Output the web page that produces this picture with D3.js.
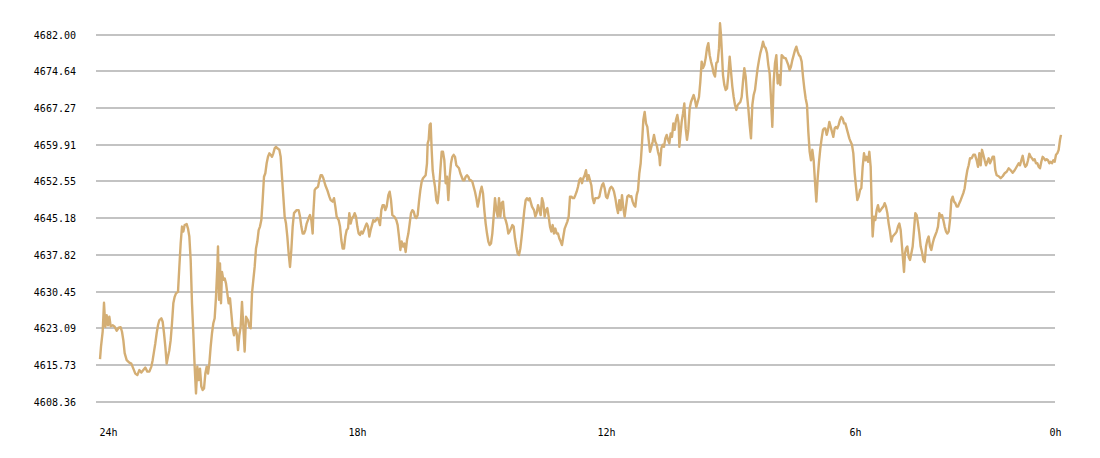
<!DOCTYPE html>
<html>
<head>
<meta charset="utf-8">
<script src="https://cdn.jsdelivr.net/npm/d3@7/dist/d3.min.js"></script>
<style>
  html, body { margin: 0; padding: 0; background: #fff; }
  svg { display: block; }
  text { font-family: "DejaVu Sans Mono", "Liberation Mono", monospace; font-size: 10px; fill: #000; }
</style>
</head>
<body>
<svg id="chart" width="1100" height="458"></svg>
<script>
// ---- data ----
const yTicks = [4682.00, 4674.64, 4667.27, 4659.91, 4652.55, 4645.18, 4637.82, 4630.45, 4623.09, 4615.73, 4608.36];
const xTickHours = [24, 18, 12, 6, 0];
const xTickLabels = ["24h", "18h", "12h", "6h", "0h"];
// [minutes since start of the 24h window, price]
const points = [
[0,4616.9],[1.5,4619.4],[4,4622.4],[6,4628.2],[8,4623.4],[10,4625.7],[12,4623.7],[14,4625.4],[16,4623.5],[19,4623.7],
[22,4623.4],[25,4622.6],[28,4623.2],[31,4623.3],[33,4622.4],[35,4620.7],[37,4618.1],[40,4616.7],[44,4616.2],[47,4616.0],
[50,4615.0],[53,4614.0],[56,4613.7],[59,4614.7],[62,4614.2],[65,4614.7],[68,4615.2],[71,4614.4],[74,4614.4],[77,4615.4],
[79,4616.7],[81,4618.4],[83,4620.1],[85,4622.1],[87,4623.7],[89,4624.7],[92,4625.1],[94,4624.4],[96,4622.1],[98,4619.4],
[100,4616.0],[102,4617.4],[104,4618.7],[106,4620.7],[108,4624.1],[110,4628.1],[112,4629.4],[114,4630.1],[117,4630.4],[119,4635.4],
[121,4640.1],[123,4643.5],[125,4642.5],[127,4643.8],[130,4644.0],[132,4643.1],[134,4641.5],[136,4636.8],[138,4628.1],[140,4622.1],
[142,4615.4],[144,4610.0],[146,4615.4],[148,4612.7],[150,4615.0],[152,4611.4],[154,4610.7],[156,4611.0],[158,4614.0],[160,4615.4],
[162,4614.0],[164,4616.0],[166,4619.4],[168,4622.1],[170,4624.1],[172,4625.1],[174,4629.4],[176,4635.4],[177,4639.5],[178.5,4628.8],
[180,4636.1],[181.5,4628.1],[183,4634.4],[185,4632.8],[187,4633.1],[189,4632.1],[191,4630.1],[193,4628.1],[195,4629.1],[197,4626.1],
[199,4623.1],[201,4621.7],[203,4623.1],[205,4622.1],[207,4618.7],[209,4621.7],[211,4623.4],[213,4628.4],[215,4623.4],[217,4618.4],
[219,4625.4],
[222,4624.7],[224,4623.4],[226,4623.1],[228,4630.1],[230,4632.8],[232,4635.4],[234,4639.1],[236,4640.5],[238,4642.8],[240,4643.5],
[242,4644.8],[244,4648.8],[246,4653.5],[248,4654.2],[250,4656.2],[252,4657.5],[254,4658.2],[256,4657.9],[258,4657.5],[260,4658.2],
[262,4659.2],[264,4659.5],[266,4659.2],[269,4658.9],[271,4657.5],[273,4653.5],[275,4649.5],[277,4645.5],[279,4644.1],[281,4641.5],
[283,4638.1],[285,4635.4],[287,4638.8],[289,4643.5],[291,4646.2],[293,4646.5],[295,4646.8],[298,4646.8],[300,4645.5],[302,4643.5],
[304,4642.1],[306,4642.1],[308,4642.8],[310,4644.1],[313,4645.2],[315,4645.8],[317,4644.8],[319,4642.1],[320,4646.2],[322,4650.8],
[324,4651.2],[327,4651.5],[329,4652.8],[331,4653.8],[333,4653.8],[335,4653.2],[338,4651.8],[341,4650.8],[344,4649.5],[346,4648.8],
[349,4648.5],[351,4649.2],[353,4647.5],[355,4645.5],[358,4644.8],[360,4643.5],[362,4640.8],[364,4639.1],[366,4639.1],[368,4641.5],
[370,4642.8],[372,4643.1],[374,4646.2],[376,4644.1],[378,4645.2],[380,4645.5],[382,4646.2],[384,4645.5],[386,4643.5],[388,4642.1],
[390,4641.8],[392,4642.5],[394,4642.1],[396,4642.8],[398,4643.5],[400,4644.1],[402,4643.5],[404,4641.5],[406,4642.8],[408,4643.8],
[410,4644.8],[412,4644.5],[414,4644.8],[416,4645.2],[418,4644.8],[420,4643.8],[422,4646.8],[424,4647.8],[426,4647.8],[428,4646.8],
[430,4647.5],[432.5,4649.8],[434.5,4650.5],[436.5,4648.8],[438.5,4645.8],[441.5,4645.5],[444.5,4644.8],[446.5,4643.8],[448.5,4641.5],[450.5,4638.8],
[452.5,4640.5],[454.5,4639.5],[456.5,4640.1],[458.5,4638.4],[460.5,4640.8],[462.5,4642.1],[464.5,4644.1],[466.5,4646.2],[468.5,4646.8],[470.5,4646.5],
[472.5,4645.5],[474.5,4645.2],[476.5,4645.8],[478.5,4648.5],[480.5,4650.8],[482.5,4652.5],[484.5,4653.2],[486.5,4653.5],[488.5,4653.8],[490.5,4656.2],
[491.5,4660.2],[493,4660.9],[494.5,4663.9],[496,4664.2],[497.5,4658.9],[499,4654.8],[500.5,4653.2],[502.5,4651.5],[504.5,4648.8],[506.5,4648.2],
[508.5,4650.8],[510.5,4654.8],[512.5,4658.5],[514.5,4658.5],[516.5,4656.8],[518.5,4652.2],[520.5,4653.5],[522.5,4648.8],[524.5,4653.5],[526.5,4656.2],
[528.5,4657.5],[530.5,4657.9],[532.5,4657.5],[534.5,4655.8],[536.5,4655.5],[538.5,4655.2],[540.5,4654.2],[542.5,4653.5],[544.5,4652.8],[546.5,4652.8],
[548.5,4653.5],[550.5,4653.8],[552.5,4653.5],[554.5,4652.8],[556.5,4652.8],[558.5,4652.5],[560.5,4651.5],[562.5,4650.5],[564.5,4649.2],[566.5,4647.5],
[568.5,4648.8],[570.5,4650.5],[572.5,4651.5],[574.5,4650.2],[576.5,4646.8],[578.5,4644.1],[580.5,4642.1],[582.5,4640.5],[584.5,4639.8],[586.5,4640.1],
[588.5,4642.1],[590.5,4645.5],[592.5,4649.2],[594.5,4646.8],[596.5,4645.5],[598.5,4649.2],[600.5,4645.5],[602.5,4648.2],[604.5,4648.5],[606.5,4645.5],
[608.5,4644.8],[610.5,4643.8],[612.5,4642.1],[614.5,4642.5],[616.5,4643.1],[618.5,4643.8],[620.5,4643.5],[622.5,4641.1],[624.5,4639.5],[626.5,4638.1],
[628.5,4637.8],[630.5,4639.1],[632.5,4641.5],[634.5,4644.1],[636.5,4646.8],[638.5,4648.8],[640.5,4649.2],[642.5,4648.8],[644.5,4649.2],
[648,4647.5],[651,4646.8],[653,4645.5],[655,4646.2],[657,4647.8],[659,4646.8],[661,4645.8],[663,4649.2],[665,4648.2],[667,4645.5],
[669,4646.8],[671,4647.2],[673,4645.5],[675,4643.5],[677,4642.5],[679,4643.8],[681,4642.1],[683,4643.1],[685,4642.1],[687,4642.1],
[689,4641.1],[691,4640.5],[693,4639.8],[695,4641.5],[697,4643.1],[699,4643.8],[701,4644.5],[703,4645.5],[705,4649.5],[707,4649.5],
[709,4649.2],[711,4649.2],[713,4649.8],[715,4650.5],[717,4651.5],[719,4652.8],[721,4653.2],[723,4652.2],[725,4653.2],[727,4653.8],
[729,4654.8],[731,4652.8],[733,4653.8],[735,4652.8],[737,4651.8],[739,4649.2],[741,4648.2],[743,4649.2],[745,4649.2],[747,4649.2],
[749,4649.5],[751,4650.8],[753,4651.8],[755,4652.2],[757,4651.2],[759,4649.5],[761,4649.2],[763,4650.2],[765,4651.2],[767,4651.5],
[769,4651.2],[771,4650.5],[773,4649.2],[775,4647.5],[777,4646.2],[779,4648.8],[781,4646.8],[783,4649.8],[785,4647.2],[787,4645.5],
[789,4647.5],[791,4649.5],[793,4649.8],[795,4649.5],[797,4649.6],[799,4648.5],[801,4647.8],[803,4647.5],[805,4649.8],[807,4650.8],
[809,4654.2],[811,4656.2],[813,4660.2],[815,4664.9],[817,4666.5],[819,4664.2],[821,4663.5],[823,4660.9],[825,4658.5],[827,4659.5],
[829,4660.5],[831,4661.9],[833,4660.5],[835,4659.9],[837,4658.5],[839,4657.5],[840,4655.8],[842,4659.2],[844,4659.9],[846,4659.5],
[848,4661.2],[850,4661.9],[852,4660.9],[854,4660.2],[856,4662.2],[858,4661.5],[860,4664.2],[862,4662.9],[864,4664.9],[866,4665.9],
[868,4664.2],[869,4659.5],
[872.5,4664.5],[874.5,4666.2],[876.5,4668.2],[878.5,4663.2],[880.5,4660.9],[882.5,4662.9],[884.5,4667.2],[886.5,4668.5],[888.5,4669.2],[890.5,4669.9],
[892.5,4668.9],[894.5,4667.5],[896.5,4668.5],[898.5,4669.5],[900.5,4672.6],[902.5,4676.6],[904.5,4675.3],[906.5,4675.9],[908.5,4677.3],[910.5,4679.3],
[912.5,4680.3],[914.5,4677.9],[916.5,4676.6],[918.5,4675.6],[920.5,4674.2],[922.5,4673.6],[924.5,4676.3],[926.5,4676.6],[928.5,4679.3],[930,4684.3],
[931.5,4681.9],[933,4677.9],[934.5,4673.9],[936.5,4671.9],[938.5,4670.9],[940.5,4671.2],[942.5,4673.9],[944.5,4677.6],[946.5,4674.6],[948.5,4671.6],
[950.5,4669.5],[952.5,4667.9],[954.5,4666.9],[956.5,4667.9],[958.5,4668.2],[960.5,4668.5],[962.5,4669.5],[964.5,4672.6],[966.5,4675.3],[968.5,4673.6],
[970.5,4669.9],[972.5,4667.2],[974.5,4663.9],[976.5,4661.2],[978.5,4667.9],[980.5,4669.9],[982.5,4670.9],[984.5,4673.2],[986.5,4675.3],[988.5,4676.9],
[990.5,4678.3],[992.5,4679.3],[994.5,4680.6],[996.5,4679.6],[998.5,4679.3],[1000.5,4678.3],[1002.5,4675.9],[1004.5,4674.2],[1006.5,4669.2],[1008.5,4663.5],
[1010.5,4672.6],[1012.5,4676.3],[1014.5,4677.9],[1016.5,4672.2],[1018.5,4673.9],[1020.5,4671.9],[1022.5,4677.9],[1024.5,4677.6],[1026.5,4677.3],[1028.5,4677.3],
[1030.5,4676.6],[1032.5,4675.9],[1034.5,4674.9],[1036.5,4675.6],[1038.5,4676.9],[1040.5,4677.9],[1042.5,4678.9],[1044.5,4679.6],[1046.5,4678.6],[1048.5,4677.9],
[1050.5,4677.6],[1052.5,4676.6],[1054.5,4673.6],[1056.5,4671.2],[1058.5,4669.2],[1060.5,4667.9],[1062.5,4662.5],[1064.5,4658.5],[1066.5,4656.8],[1068.5,4658.9],
[1070.5,4656.8],[1072.5,4652.5],[1074.5,4648.5],[1076.5,4653.2],[1078.5,4656.5],[1080.5,4659.2],[1082.5,4661.2],[1084.5,4662.9],[1086.5,4663.2],
[1088,4663.2],[1090,4661.9],[1092,4662.9],[1094,4664.5],[1096,4663.5],[1098,4662.5],[1100,4661.5],[1102,4663.2],[1104,4663.5],[1106,4663.2],
[1108,4663.9],[1110,4664.9],[1112,4665.5],[1114,4665.2],[1116,4664.2],[1118,4664.2],[1120,4663.2],[1122,4662.2],[1124,4661.2],[1126,4660.5],
[1128,4659.9],[1130,4658.2],[1132,4654.2],[1134,4651.5],[1136,4648.8],[1138,4649.5],[1140,4650.8],[1142,4651.2],[1144,4655.5],[1146,4658.2],
[1148,4656.8],[1150,4657.5],[1152,4656.5],[1154,4658.5],[1156,4655.5],[1158,4645.5],[1159,4641.5],[1161,4645.5],[1163,4644.8],[1165,4646.8],
[1167,4647.8],[1169,4646.5],[1171,4646.8],[1173,4647.2],[1175,4647.5],[1177,4648.2],[1179,4647.5],[1181,4646.2],[1183,4644.1],[1185,4642.5],
[1187,4640.5],[1189,4641.5],[1191,4641.8],[1193,4642.1],[1195,4642.5],[1197,4643.5],[1199,4644.1],[1201,4642.8],[1203,4639.5],[1205,4636.1],
[1206,4634.4],[1207.5,4638.1],[1209,4639.1],[1211,4639.5],[1213,4637.4],[1215,4636.8],[1217,4638.1],[1219,4639.5],[1221,4642.8],[1223,4646.2],
[1225,4645.8],[1227,4644.1],[1229,4642.1],[1231,4639.5],[1233,4638.4],[1235,4636.8],[1237,4636.4],[1239,4639.5],[1241,4640.8],[1243,4641.5],
[1245,4639.5],[1247,4638.8],[1249,4640.1],[1251,4641.1],[1253,4641.8],[1255,4642.5],[1257,4643.5],[1259,4646.2],[1261,4645.5],[1263,4645.8],
[1265,4644.8],[1267,4643.5],[1269,4642.5],[1271,4642.1],[1273,4642.5],[1275,4644.8],[1277,4648.8],[1279,4649.5],[1281,4648.5],[1283,4648.2],
[1285,4647.5],[1287,4647.5],[1289,4648.2],[1291,4648.8],[1293,4649.5],[1295,4650.2],[1297,4651.2],[1299,4653.2],[1301,4654.8],[1303,4655.8],
[1305,4657.2],
[1307.5,4657.2],[1310,4657.9],[1312.5,4657.9],[1315,4656.8],[1317,4655.5],[1319,4658.2],[1321,4655.8],[1323,4658.9],[1325,4657.9],[1327,4656.8],
[1329,4655.8],[1331,4656.5],[1333,4657.2],[1335,4656.2],[1337,4656.8],[1339,4657.5],[1341,4657.5],[1343,4654.8],[1345,4653.8],[1348,4653.6],
[1351,4653.2],[1354,4653.6],[1357,4654.2],[1360,4654.5],[1363,4655.2],[1366,4654.8],[1369,4654.3],[1372,4654.8],[1375,4655.5],[1378,4656.2],
[1380,4655.8],[1382,4656.8],[1384,4657.7],[1386,4656.2],[1388,4655.5],[1390,4655.8],[1392,4656.8],[1394,4658.1],[1396,4657.5],[1398,4657.2],
[1400,4656.8],[1402,4657.0],[1404,4656.2],[1406,4656.2],[1408,4655.5],[1410,4655.2],[1412,4656.5],[1414,4657.5],[1416,4657.2],[1418,4656.8],
[1420,4657.0],[1422,4656.8],[1424,4656.2],[1426,4656.5],[1428,4656.2],[1430,4656.8],[1432,4656.5],[1434,4657.9],[1436,4658.2],[1438,4658.9],
[1440,4660.9],[1441.5,4661.9]
];

// ---- layout ----
const gridLeft = 96, gridRight = 1055;
const lineLeft = 100, lineRight = 1061;
const plotTop = 34.7, plotBottom = 401.7;

const svg = d3.select("#chart");

const x = d3.scaleLinear()
  .domain(d3.extent(points, d => d[0]))
  .range([lineLeft, lineRight]);

const y = d3.scaleLinear()
  .domain([d3.min(yTicks), d3.max(yTicks)])
  .range([plotBottom, plotTop]);

// hour labels: spaced evenly per 6h, last label kept inside the grid
const hourX = d3.scaleLinear().domain([24, 0]).range([108.5, 1104.5]);

// gridlines
svg.append("g")
  .selectAll("line")
  .data(yTicks)
  .join("line")
  .attr("x1", gridLeft)
  .attr("x2", gridRight)
  .attr("y1", d => y(d))
  .attr("y2", d => y(d))
  .attr("stroke", "#c3c3c3")
  .attr("stroke-width", 2)
  .attr("shape-rendering", "crispEdges");

// y labels
svg.append("g")
  .selectAll("text")
  .data(yTicks)
  .join("text")
  .attr("x", 76)
  .attr("y", d => y(d) + 4)
  .attr("text-anchor", "end")
  .text(d => d.toFixed(2));

// x labels
svg.append("g")
  .selectAll("text")
  .data(xTickHours)
  .join("text")
  .attr("x", d => Math.min(hourX(d), gridRight + 0.5))
  .attr("y", 436)
  .attr("text-anchor", "middle")
  .text((d, i) => xTickLabels[i]);

// price line
const line = d3.line()
  .x(d => x(d[0]))
  .y(d => y(d[1]));

svg.append("path")
  .datum(points)
  .attr("fill", "none")
  .attr("stroke", "#d4ae74")
  .attr("stroke-width", 2.4)
  .attr("stroke-linejoin", "round")
  .attr("d", line);
</script>
</body>
</html>
